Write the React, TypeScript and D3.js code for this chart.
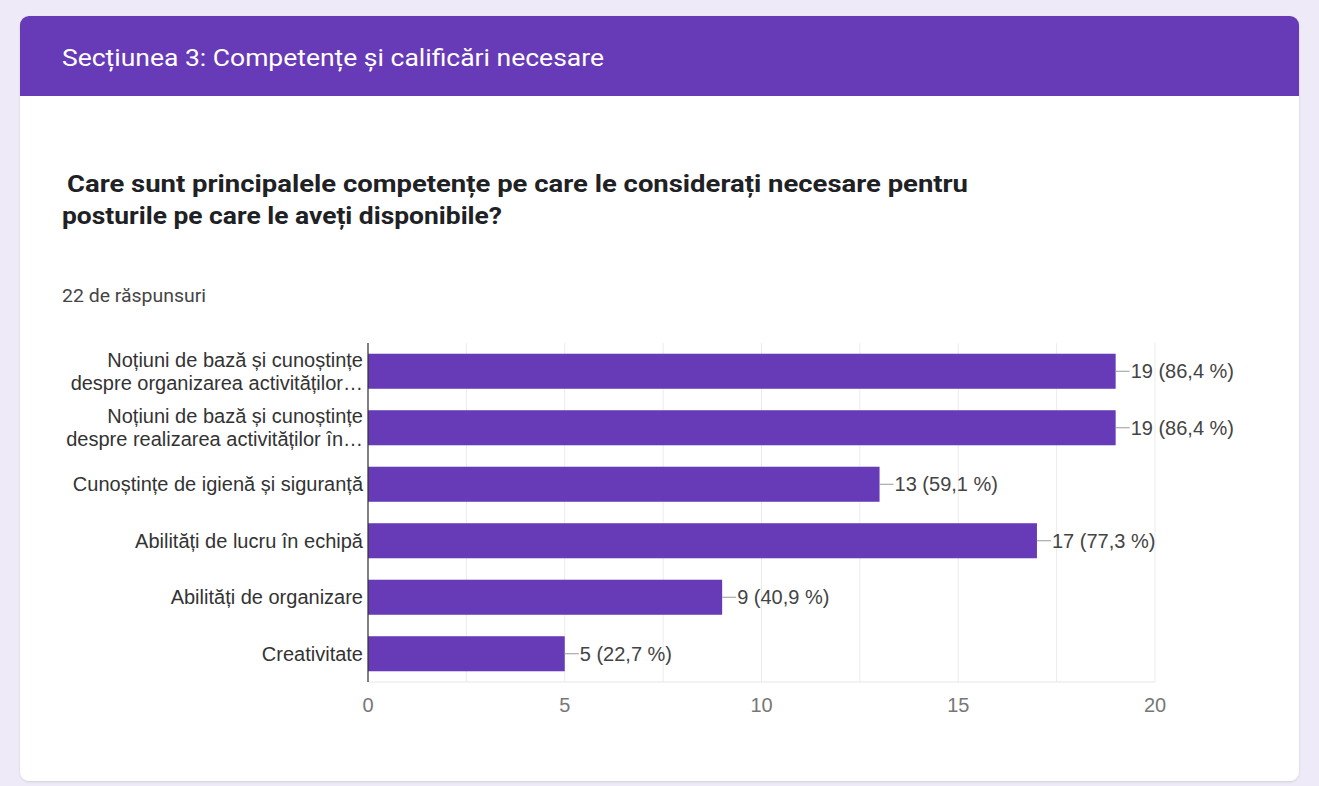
import * as d3 from "d3";

const headerTitle = "Secțiunea 3: Competențe și calificări necesare";
const questionLines = [
  "Care sunt principalele competențe pe care le considerați necesare pentru",
  "posturile pe care le aveți disponibile?",
];
const responsesText = "22 de răspunsuri";

const categories = [
  ["Noțiuni de bază și cunoștințe", "despre organizarea activităților…"],
  ["Noțiuni de bază și cunoștințe", "despre realizarea activităților în…"],
  ["Cunoștințe de igienă și siguranță"],
  ["Abilități de lucru în echipă"],
  ["Abilități de organizare"],
  ["Creativitate"],
];
const counts = [19, 19, 13, 17, 9, 5];
const percents = ["86,4", "86,4", "59,1", "77,3", "40,9", "22,7"];
const xTicks = [0, 5, 10, 15, 20];
const gridTicks = [0, 2.5, 5, 7.5, 10, 12.5, 15, 17.5, 20];

const W = 1319;
const H = 786;
const purple = "#673ab7";
const labelFont = "'Liberation Sans', Arial, sans-serif";
const titleFont = "Roboto, 'Noto Sans', sans-serif";

const App = () => {
  const x = d3.scaleLinear().domain([0, 20]).range([368, 1155]);
  const y = d3
    .scaleBand<number>()
    .domain(d3.range(categories.length))
    .range([343, 682])
    .paddingInner(0.38)
    .paddingOuter(0.19);

  const top = 343;
  const bottom = 682;
  // widths of the title lines as measured on the reference
  const questionX = [67, 62];
  const questionLen = [901, 440];

  return (
    <svg width={W} height={H} style={{ position: "absolute", left: 0, top: 0, display: "block" }}>
      <defs>
        <filter id="sh" x="-5%" y="-5%" width="110%" height="110%">
          <feDropShadow dx="0" dy="1" stdDeviation="1" floodColor="#000" floodOpacity="0.12" />
        </filter>
        <clipPath id="cardClip">
          <rect x={20} y={16} width={1279} height={765} rx={9} />
        </clipPath>
      </defs>
      <rect width={W} height={H} fill="#efeaf7" />

      {/* card */}
      <rect x={20} y={16} width={1279} height={765} rx={9} fill="#fff" filter="url(#sh)" />
      <g clipPath="url(#cardClip)">
        <rect x={20} y={16} width={1279} height={80} fill={purple} />
      </g>
      <text
        x={62}
        y={66}
        fill="#fff"
        fontFamily={titleFont}
        fontSize={24}
        textLength={542}
        lengthAdjust="spacingAndGlyphs"
      >
        {headerTitle}
      </text>

      {/* question */}
      {questionLines.map((t, i) => (
        <text
          key={i}
          x={questionX[i]}
          y={192 + i * 32}
          fill="#202124"
          fontFamily={titleFont}
          fontWeight={700}
          fontSize={24}
          textLength={questionLen[i]}
          lengthAdjust="spacingAndGlyphs"
        >
          {t}
        </text>
      ))}
      <text
        x={62}
        y={302}
        fill="#444"
        fontFamily={titleFont}
        fontSize={19}
        textLength={144}
        lengthAdjust="spacingAndGlyphs"
      >
        {responsesText}
      </text>

      {/* grid */}
      {gridTicks.map((t) => (
        <line key={t} x1={x(t)} x2={x(t)} y1={top} y2={bottom} stroke="#ebebeb" strokeWidth={1} />
      ))}
      <line x1={x(0)} x2={x(20)} y1={bottom} y2={bottom} stroke="#e6e6e6" />

      {/* bars */}
      {counts.map((v, i) => {
        const by = y(i)!;
        const bh = y.bandwidth();
        const cy = by + bh / 2;
        return (
          <g key={i}>
            <rect x={x(0)} y={by} width={x(v) - x(0)} height={bh} fill={purple} />
            <line x1={x(v)} x2={x(v) + 14} y1={cy} y2={cy} stroke="#999" strokeWidth={1} />
            <text
              x={x(v) + 15}
              y={cy}
              dy="0.36em"
              fill="#444"
              fontFamily={labelFont}
              fontSize={20}
            >
              {`${v} (${percents[i]} %)`}
            </text>
            {categories[i].map((line, j) => (
              <text
                key={j}
                x={363}
                y={cy + (j - (categories[i].length - 1) / 2) * 23}
                dy="0.36em"
                textAnchor="end"
                fill="#333"
                fontFamily={labelFont}
                fontSize={20}
              >
                {line}
              </text>
            ))}
          </g>
        );
      })}

      {/* axis */}
      <line x1={x(0)} x2={x(0)} y1={top} y2={bottom} stroke="#333" strokeWidth={1.2} />
      {xTicks.map((t) => (
        <text
          key={t}
          x={x(t)}
          y={712}
          textAnchor="middle"
          fill="#777"
          fontFamily={labelFont}
          fontSize={20}
        >
          {t}
        </text>
      ))}
    </svg>
  );
};

export default App;
